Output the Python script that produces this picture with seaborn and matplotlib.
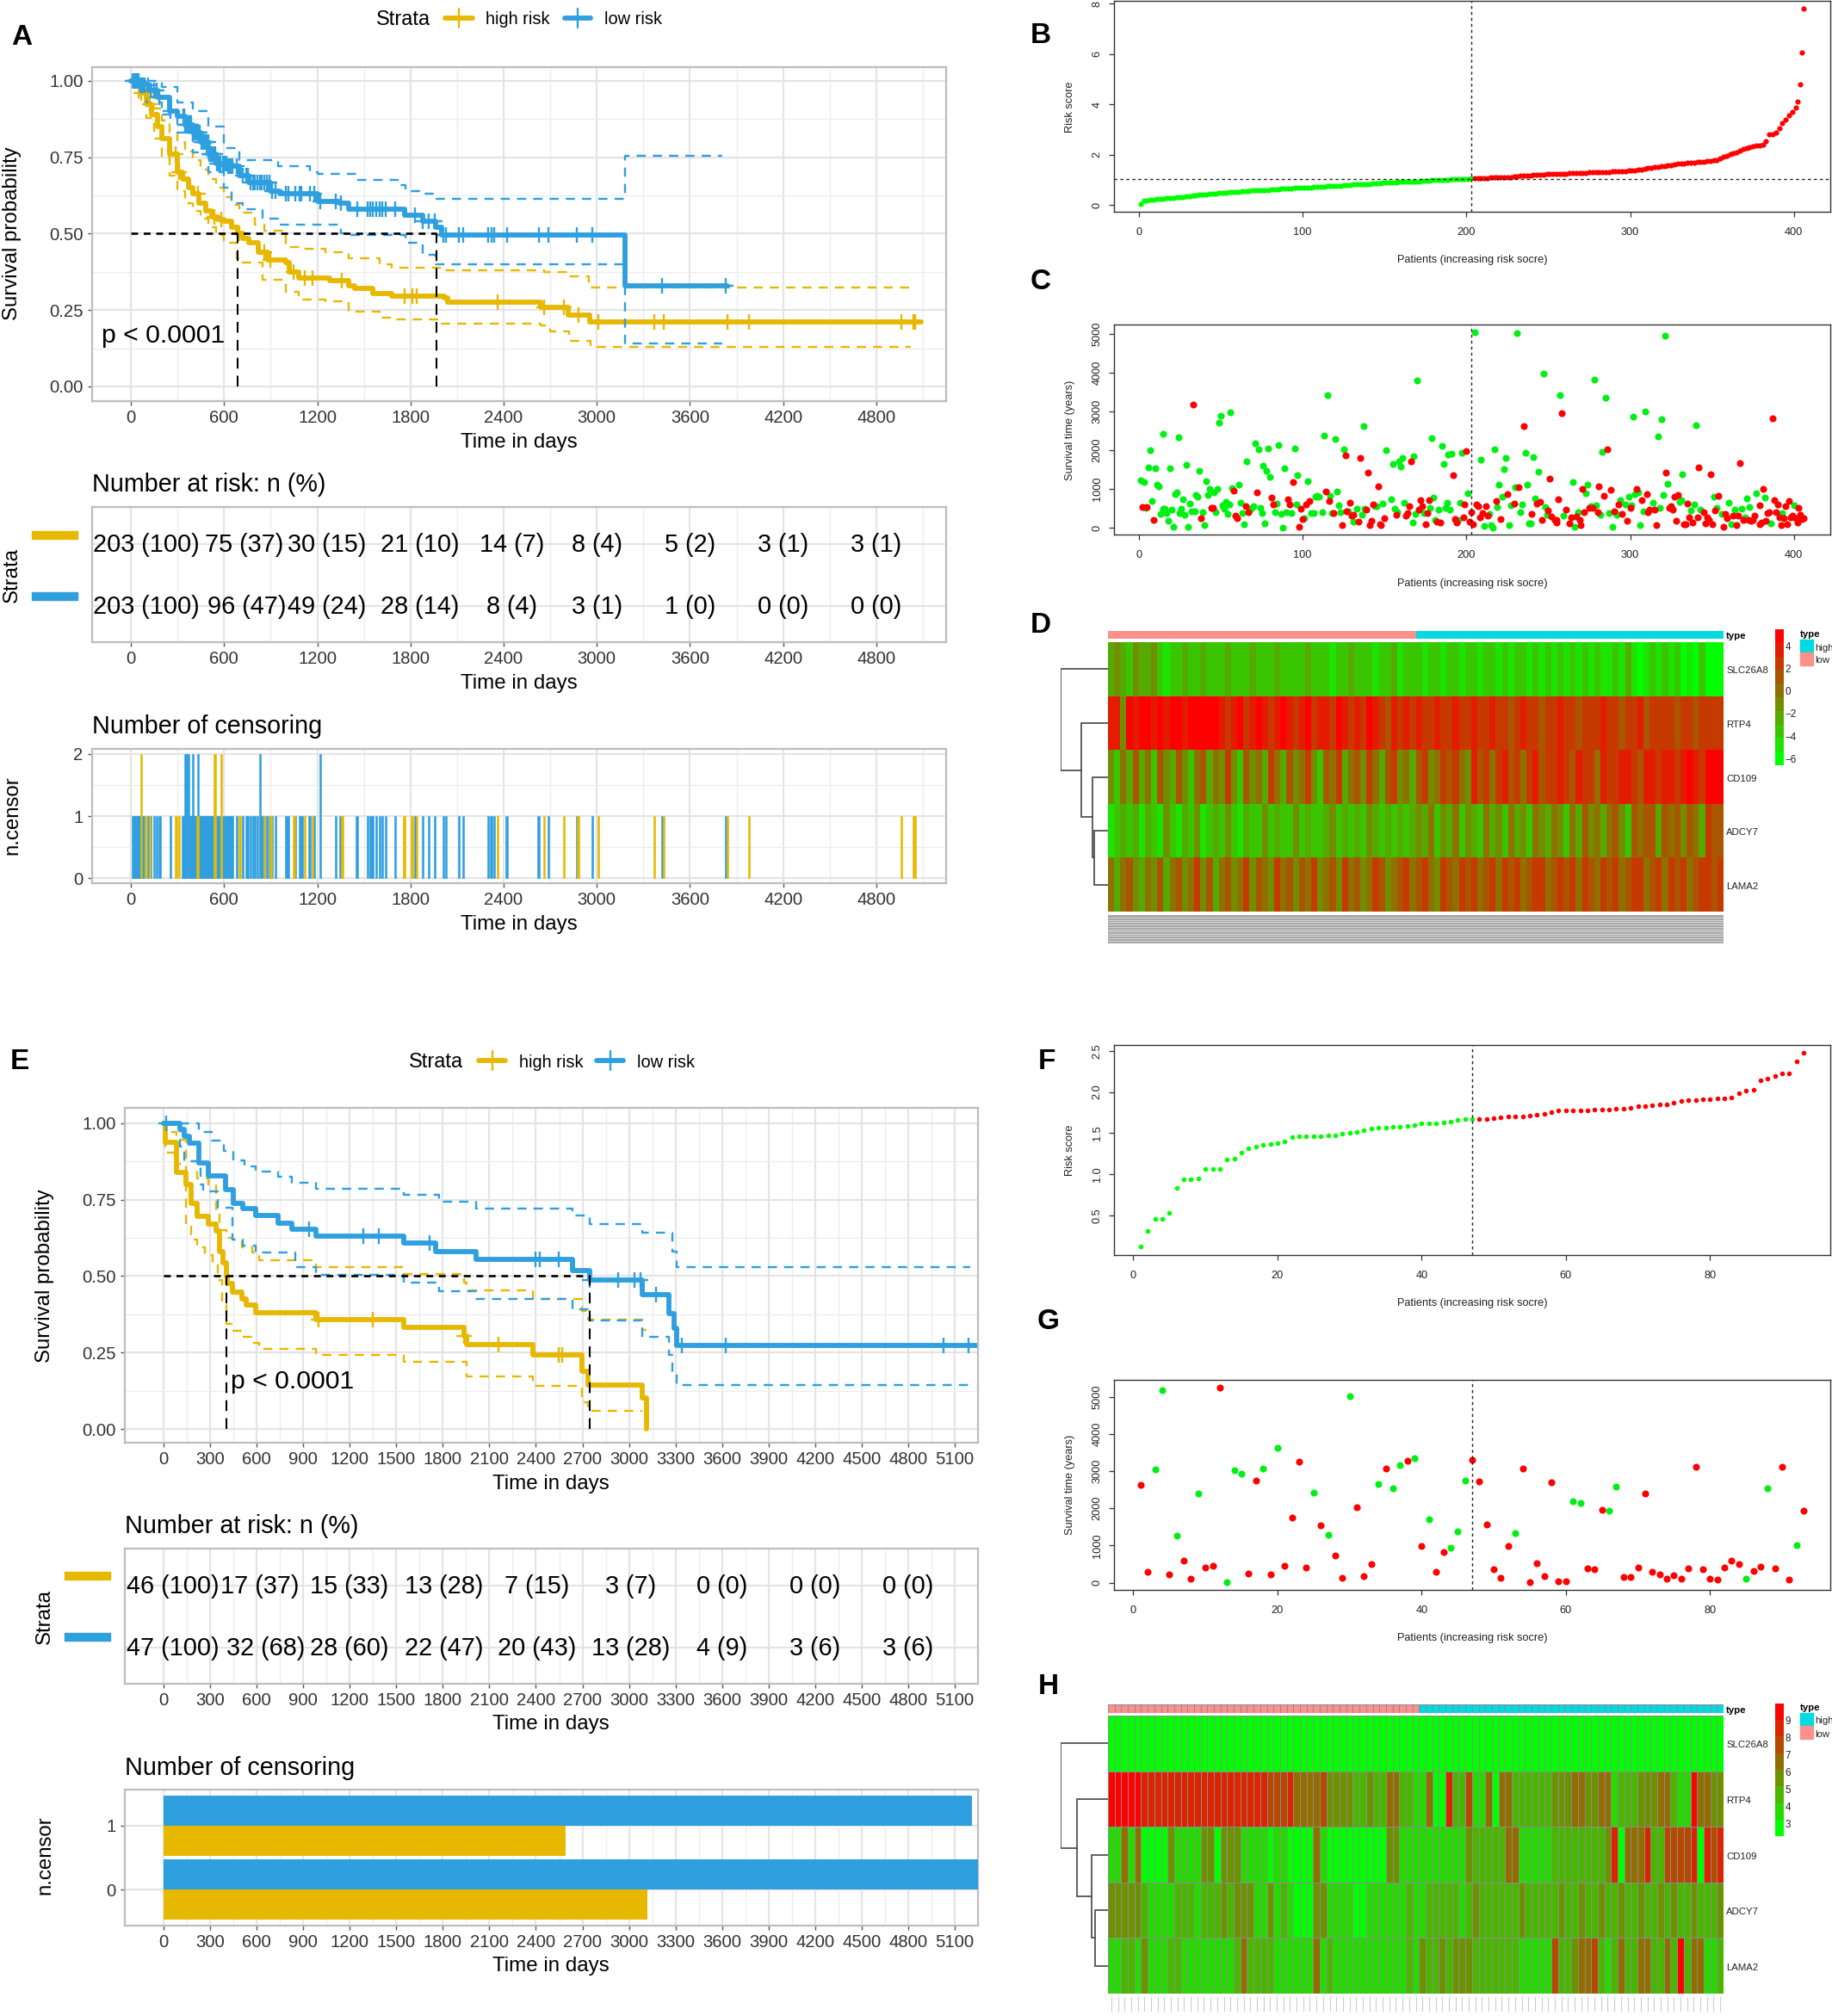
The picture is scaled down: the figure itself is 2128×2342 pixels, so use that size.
import numpy as np
import pandas as pd
import matplotlib
matplotlib.use("Agg")
import matplotlib.pyplot as plt
from matplotlib.colors import LinearSegmentedColormap, ListedColormap
from matplotlib.lines import Line2D
from matplotlib.patches import Rectangle
import seaborn as sns

# ------------------------------------------------------------------ data
GOLD, BLUE = "#E7B800", "#2E9FDF"

A_high_t = [0,30,60,100,130,170,200,250,300,330,370,400,440,480,520,560,600,650,687,720,760,820,880,1000,1020,1080,1280,1400,1440,1560,1680,2020,2040,2640,2815,2955,5090]
A_high_s = [1,.985,.96,.925,.89,.85,.81,.76,.70,.68,.65,.63,.60,.575,.555,.545,.54,.52,.50,.485,.47,.44,.415,.405,.375,.355,.345,.33,.32,.305,.295,.29,.275,.26,.235,.21,.21]
A_high_u = [0,50,100,150,200,250,300,350,400,450,500,550,600,650,700,800,860,1000,1080,1250,1400,1600,1680,2000,2660,2820,2950,5020]
A_high_up = [1,.98,.95,.91,.87,.83,.80,.77,.74,.71,.68,.65,.62,.595,.57,.53,.51,.455,.45,.44,.42,.40,.39,.38,.375,.36,.325,.325]
A_high_l = [0,50,100,150,200,250,300,350,400,450,500,550,600,680,720,850,1000,1080,1250,1400,1600,1680,2000,2640,2700,2820,2960,5020]
A_high_lo = [1,.94,.88,.81,.75,.69,.64,.60,.575,.55,.52,.495,.47,.42,.405,.35,.31,.285,.28,.245,.225,.22,.205,.20,.18,.15,.13,.13]

A_low_t = [0,60,120,170,250,300,350,400,450,500,550,620,700,760,900,960,1200,1340,1400,1720,1760,1880,1960,2000,3180,3840]
A_low_s = [1,.985,.97,.945,.90,.885,.855,.83,.80,.76,.73,.72,.69,.667,.64,.63,.605,.60,.58,.58,.56,.54,.52,.495,.33,.33]
A_low_u = [0,100,200,300,400,500,600,700,780,950,1150,1200,1450,1720,1770,1880,1960,3180,3810]
A_low_up = [1,1,.98,.93,.90,.85,.78,.74,.74,.72,.70,.695,.675,.66,.64,.63,.615,.755,.755]
A_low_l = [0,100,200,300,400,500,600,650,720,850,950,1150,1350,1420,1720,1770,1880,1960,3180,3810]
A_low_lo = [1,.93,.89,.83,.765,.70,.65,.60,.58,.55,.53,.53,.50,.495,.495,.47,.43,.40,.14,.14]

A_medians = [687, 1965]

A_c_high_t = [65,95,120,290,310,430,540,580,700,860,900,1050,1120,1170,1360,1760,1810,1840,2360,2660,2790,2880,3010,3370,3430,3840,3980,4960,5040,5050]
A_c_high_twos = [65,540,580]
A_c_low_t = [12,20,28,36,44,52,60,70,78,86,110,125,150,165,185,255,335,345,350,360,370,380,390,400,408,415,423,430,438,445,452,460,468,475,482,490,498,505,512,520,528,535,542,555,565,575,595,605,615,625,635,645,655,680,720,745,755,770,785,800,815,830,845,860,875,890,910,930,1000,1015,1060,1085,1100,1150,1180,1220,1320,1350,1455,1525,1540,1555,1580,1600,1620,1640,1700,1830,1880,1920,1955,2010,2030,2110,2140,2300,2320,2340,2420,2625,2690,2870,2970,3420,3830]
A_c_low_twos = [350,360,370,400,430,830,1220]

A_risk_high = ["203 (100)","75 (37)","30 (15)","21 (10)","14 (7)","8 (4)","5 (2)","3 (1)","3 (1)"]
A_risk_low = ["203 (100)","96 (47)","49 (24)","28 (14)","8 (4)","3 (1)","1 (0)","0 (0)","0 (0)"]
A_risk_high_x = [100,727,1262,1861,2456,3000,3600,4200,4800]
A_risk_low_x = [100,747,1262,1861,2452,3000,3600,4200,4800]

E_high_t = [0,10,85,105,146,175,215,290,337,362,382,403,410,443,504,533,594,980,1550,1936,1956,2383,2696,2737,3083,3115]
E_high_s = [1,.938,.838,.838,.80,.738,.695,.67,.648,.58,.543,.50,.476,.448,.424,.405,.38,.357,.333,.305,.276,.241,.19,.143,.10,0]
E_high_u = [0,10,85,146,215,290,337,362,403,443,504,574,615,980,1550,1936,1956,2383,2696,2737,3083,3115]
E_high_up = [1,.97,.945,.875,.82,.80,.71,.65,.625,.62,.595,.576,.552,.529,.507,.478,.452,.424,.386,.357,.324,.324]
E_high_l = [0,10,85,146,175,215,264,317,350,378,403,443,512,574,615,980,1550,1956,2383,2696,2737,3083]
E_high_lo = [1,.905,.866,.67,.62,.595,.57,.543,.486,.419,.343,.322,.30,.281,.262,.242,.219,.171,.14,.086,.06,.06]
E_low_t = [0,105,134,167,228,290,398,451,512,594,736,826,980,1550,1753,2017,2635,2749,3083,3257,3290,3306,5250]
E_low_s = [1,.98,.957,.935,.871,.829,.783,.738,.72,.697,.674,.652,.631,.607,.579,.554,.519,.488,.438,.378,.329,.274,.274]
E_low_u = [0,228,309,390,451,524,594,736,826,980,1550,1773,2017,2635,2749,3083,3278,3306,5200]
E_low_up = [1,.971,.943,.91,.878,.859,.843,.824,.805,.786,.766,.743,.722,.697,.67,.641,.581,.529,.529]
E_low_l = [0,105,134,240,256,350,443,512,594,850,980,1550,1773,2017,2635,2749,3083,3257,3282,3306,5200]
E_low_lo = [1,.924,.876,.80,.778,.724,.62,.60,.576,.529,.505,.478,.45,.424,.391,.354,.30,.243,.186,.143,.143]
E_medians = [403, 2749]
E_c_high_t = [1000,1346,1936,2160,2546,2570]
E_c_low_t = [15,940,1285,1387,1712,2395,2424,2546,2749,2932,3034,3075,3176,3339,3623,5026,5189]
E_censor_levels = ["1","1","0","0"]
E_censor_strata = ["low risk","high risk","low risk","high risk"]
E_censor_max = [5210,2590,5260,3120]
E_risk_high = ["46 (100)","17 (37)","15 (33)","13 (28)","7 (15)","3 (7)","0 (0)","0 (0)","0 (0)"]
E_risk_low = ["47 (100)","32 (68)","28 (60)","22 (47)","20 (43)","13 (28)","4 (9)","3 (6)","3 (6)"]
E_risk_high_x = [60,622,1196,1805,2405,3009,3600,4200,4800]
E_risk_low_x = [60,660,1196,1805,2405,3009,3600,4200,4800]

# B: risk score by patient rank (odd ranks up to 399, then the last ranks)
B_rank = list(range(1,400,2)) + [401,402,404,405,406]
B_score = [.05,.17,.19,.21,.23,.24,.25,.26,.27,.29, .30,.31,.32,.33,.35,.37,.38,.40,.41,.43,
           .44,.45,.46,.47,.48,.49,.50,.51,.52,.53, .54,.55,.56,.57,.58,.59,.59,.60,.60,.61,
           .62,.63,.64,.65,.66,.67,.67,.68,.69,.70, .70,.71,.71,.72,.73,.74,.74,.75,.75,.76,
           .77,.78,.79,.80,.81,.82,.82,.83,.84,.85, .85,.86,.87,.88,.89,.89,.90,.90,.91,.92,
           .92,.93,.93,.94,.95,.95,.96,.97,.98,.99, .99,1.00,1.01,1.02,1.02,1.03,1.03,1.04,1.05,1.05,
           1.05,1.06,1.06,1.07,1.07,1.08,1.08,1.09,1.09,1.10, 1.10,1.11,1.11,1.12,1.13,1.14,1.16,1.18,1.19,1.19,
           1.20,1.20,1.21,1.22,1.23,1.23,1.24,1.24,1.25,1.25, 1.26,1.27,1.28,1.28,1.29,1.29,1.29,1.30,1.30,1.30,
           1.30,1.31,1.31,1.32,1.33,1.33,1.34,1.35,1.36,1.37, 1.38,1.39,1.41,1.43,1.46,1.47,1.49,1.51,1.52,1.54,
           1.55,1.57,1.60,1.63,1.65,1.66,1.67,1.68,1.69,1.70, 1.71,1.72,1.73,1.75,1.77,1.78,1.80,1.86,1.92,1.97,
           2.02,2.07,2.11,2.16,2.22,2.26,2.30,2.33,2.36,2.38, 2.42,2.55,2.80,2.83,2.90,3.05,3.25,3.40,3.55,3.72,
           3.88,4.12,4.78,6.05,7.80]

C_alive_x = [1,3,4,6,7,8,10,11,12,13,15,15,16,17,18,19,20,21,22,23,24,25,26,27,28,29,30,31,32,34,35,36,37,39,40,41,42,43,46,47,48,49,50,51,52,53,54,55,56,57,61,62,63,64,66,68,69,70,71,73,74,75,76,77,78,79,80,83,84,85,87,88,89,90,93,95,96,97,101,103,105,107,108,109,110,112,113,115,117,118,120,121,122,123,125,128,131,133,136,137,138,144,145,149,151,154,155,156,158,159,160,161,162,167,168,169,170,174,178,179,180,181,183,185,186,187,188,189,190,191,195,196,197,201,205,209,211,214,215,216,217,219,220,222,223,224,226,227,230,231,233,234,236,237,238,239,241,242,244,247,248,249,257,259,265,266,268,273,274,276,278,279,282,283,285,287,289,291,292,294,297,299,301,302,303,305,306,308,309,314,317,318,319,320,321,323,330,331,332,337,339,340,343,351,353,356,360,362,364,368,370,371,373,377,382,386,393,400]
C_alive_y = [1224,1185,520,1560,2010,690,1540,1115,1070,360,480,2420,480,370,170,1540,470,20,870,910,2330,370,480,730,330,1620,30,620,420,420,840,800,1460,390,70,1190,840,1000,910,400,1000,2700,2890,570,480,670,360,590,2970,1030,1100,640,370,80,1700,470,520,560,2170,2030,500,370,1600,110,1460,2050,1320,390,630,2140,350,10,1530,390,380,2050,590,1350,250,1210,370,370,810,830,810,410,2370,3420,830,370,2290,940,570,390,2020,420,150,480,340,2620,480,550,550,630,2000,740,1650,490,400,1710,1580,1790,640,130,1840,360,3810,370,520,2310,770,200,460,2110,1640,520,640,1880,460,1910,190,640,1940,890,5040,1750,40,350,60,10,2020,540,1100,790,1520,1800,70,570,1050,5030,410,590,1940,1110,120,110,1820,750,1450,3980,540,340,3430,320,1170,20,400,890,1110,560,3830,570,340,1950,3360,370,30,400,340,700,600,810,580,2870,870,900,70,430,3010,650,2350,510,2790,850,4960,1130,660,710,1370,450,590,2650,470,790,520,360,650,80,460,490,260,750,530,890,780,100,370,570]
C_dead_x = [2,5,9,33,38,44,45,58,59,60,65,67,72,81,82,91,92,94,98,99,100,102,104,114,116,119,124,126,127,129,130,131,134,135,139,140,141,142,143,146,147,148,150,157,163,164,165,166,171,172,173,175,176,177,182,184,192,193,194,198,199,200,202,203,204,206,207,208,210,212,213,218,221,225,229,232,235,240,243,245,246,250,251,252,254,255,255,256,258,261,263,264,267,269,270,271,272,275,277,280,281,284,286,288,290,293,295,298,300,304,307,310,311,312,315,316,322,324,325,326,327,328,329,333,334,335,336,338,341,342,345,346,347,348,349,350,352,354,357,358,359,363,365,366,367,369,372,374,375,376,379,379,380,381,383,384,385,387,388,389,390,391,392,394,395,396,397,398,399,401,402,403,404,405,406]
C_dead_y = [530,540,210,3180,240,500,500,950,300,240,550,400,900,780,590,730,590,1170,20,490,230,610,680,940,680,370,60,1870,420,650,320,340,150,1800,460,1420,60,170,600,1060,80,70,250,340,320,380,550,1710,460,720,560,90,370,720,160,130,1350,230,130,260,610,1970,150,410,90,600,550,260,380,550,300,690,220,860,630,1040,2630,360,620,670,210,440,1270,280,210,130,210,730,2950,470,110,260,290,190,60,1010,400,500,500,400,1070,820,2020,980,430,590,360,170,520,1010,720,870,410,470,460,70,1420,520,550,470,790,180,840,90,90,620,260,130,270,1560,400,110,260,210,1370,90,440,820,30,360,250,300,70,310,1670,190,210,180,210,320,80,570,130,1000,180,380,400,2820,710,410,600,270,60,250,550,80,690,260,300,250,130,500,340,230,250]
_n = min(len(C_alive_x), len(C_alive_y)); C_alive_x, C_alive_y = C_alive_x[:_n], C_alive_y[:_n]
_n = min(len(C_dead_x), len(C_dead_y)); C_dead_x, C_dead_y = C_dead_x[:_n], C_dead_y[:_n]

F_score = [.12,.31,.46,.46,.53,.84,.94,.94,.95,1.06,1.07,1.07,1.18,1.19,1.26,1.32,1.34,1.36,1.37,1.38,1.40,1.45,1.46,1.46,1.46,1.46,1.47,1.47,1.49,1.50,1.51,1.54,1.56,1.57,1.57,1.58,1.58,1.59,1.60,1.62,1.62,1.62,1.63,1.64,1.66,1.67,1.67,
           1.67,1.67,1.68,1.69,1.70,1.70,1.70,1.71,1.72,1.73,1.75,1.78,1.78,1.78,1.78,1.78,1.79,1.79,1.79,1.80,1.80,1.81,1.83,1.83,1.84,1.85,1.85,1.87,1.89,1.90,1.90,1.91,1.91,1.92,1.92,1.93,1.98,2.02,2.03,2.14,2.16,2.19,2.22,2.22,2.37,2.48]
G_time = [2630,300,3050,5190,230,1270,590,100,2390,400,450,5260,20,3030,2940,250,2750,3070,230,3620,450,1750,3250,400,2430,1540,1280,740,130,5020,2020,170,500,2660,3070,2530,3170,3270,3340,980,1700,300,830,940,1390,2740,3300,2730,1560,350,130,990,1330,3070,20,520,170,2700,30,40,2180,2150,380,360,1950,1930,2580,150,160,400,2390,280,230,100,200,100,380,3110,350,100,90,410,580,490,100,320,430,2530,390,3110,90,1000,1930]
G_alive = [3,4,6,9,13,14,15,18,20,25,27,30,34,36,37,39,41,44,45,46,53,61,62,66,67,85,88,92]

genes = ["SLC26A8","RTP4","CD109","ADCY7","LAMA2"]
D_SLC26A8 = [-2,-1,-2,-3,-1,-2,-2,-1,-4,-5, -4,-3,-2,-4,-3,-2,-4,-3,-4,-2, -4,-3,-4,-2,-3,-4,-4,-2,-3,-4, -3,-4,-2,-4,-3,-4,-5,-3,-4,-2,
             -4,-4,-3,-5,-3,-4,-2,-5,-4,-3, -4,-5,-3,-4,-5,-3,-4,-5,-4,-3, -5,-4,-3,-5,-4,-5,-3,-4,-5,-4, -5,-3,-5,-4,-5,-4,-5,-3,-5,-4,
             -5,-5,-4,-5,-2,-5,-6,-5,-4,-5, -3,-5,-4,-6,-5,-6,-4,-6,-6,-6]
D_RTP4 = [4,4,-1,5,4,5,5,4,5,4, 5,5,4,5,5,5,5,5,4,3, 4,5,3,4,5,4,3,4,5,4, 3,4,5,3,4,4,3,5,4,3, 4,3,5,4,3,1,4,3,4,3,
          4,2,3,4,3,2,4,3,2,4, 2,3,4,2,3,1,3,4,2,3, 1,3,2,4,3,2,1,3,2,3, 4,2,3,1,3,2,4,1,2,3, 2,3,1,2,3,1,2,3,2,3]
D_CD109 = [-1,-3,0,-2,1,-2,0,-3,1,-1, -2,1,-1,-3,0,1,-2,0,-1,2, -1,-3,1,-1,0,-2,2,0,-2,1, -1,0,2,-1,-3,1,0,2,-2,0,
           1,-1,2,0,-2,1,2,-1,0,-2, 1,3,-1,0,2,1,3,0,-1,4, 1,3,0,2,4,1,3,0,2,4, 1,3,2,4,3,1,4,2,3,0, 4,3,2,4,4,3,1,4,4,2, 4,4,3,4,5,4,3,5,5,5]
D_ADCY7 = [-5,-3,-2,-4,-2,-5,-2,-3,-5,-1, -3,-5,-2,-3,-1,-5,-3,-2,-4,-1, -3,-5,-2,-3,-4,-1,-3,-2,-4,-3, -1,-4,-2,-3,-3,-2,-1,-3,-2,-3,
           -2,-3,-1,-2,-3,-2,-3,-2,-4,-2, -1,-2,0,-3,-1,-2,0,-3,-1,-2, -3,0,-2,-1,-3,0,-2,-1,-3,0, -1,-2,0,-1,-3,0,-2,1,-1,0, -2,0,1,-1,-3,1,0,1,1,-2, 1,0,1,-1,1,0,-2,2,1,1]
D_LAMA2 = [0,-2,0,1,-1,-2,0,-1,1,-2, 0,1,-1,0,2,-1,1,-2,0,1, -1,0,2,-1,1,0,-1,2,0,1, -1,1,0,2,-1,0,1,-1,2,0, 1,-1,0,2,1,-1,0,1,2,0,
           1,2,0,-1,2,1,0,2,1,3, 0,1,2,0,3,1,2,0,1,2, 3,0,1,2,1,3,0,2,1,0, 3,1,2,0,1,3,2,0,1,2, 0,3,1,2,0,1,3,2,1,2]

H_SLC26A8 = [3]*93
H_RTP4 = [10,10,10,10,10,9,9,9,9,9, 9,9,9,9,9,9,9,8.5,9,9, 8.5,8.5,8.5,8.5,8,8,8,9,7,7, 7,7,8,6,6,6,5.5,5,5,5.5, 5,5,7,7,4.5,4.5,4,4,7,3,
          3,9,5,5,8,4,4,7,3,7, 7,4.5,5,5,5,5,5,6,6,6, 7,7,6,6,7,7,4,5,5,5, 6,6,6,7,7,4.5,4,4,9.5,7, 7,5.5,6]
H_CD109 = [4,4,6.5,4,6.5,3,3,3,3,5.5, 4,4,4,4,6,6,3,6,6,6, 4,3.5,4,3.5,3,4,3.5,3,3,3, 3,7,4,3,3,3,3,3,3,3, 3,3,6,6,4,4,4,4,4,4,
           4,4,4,4,6,5,5,5,5,5, 7,7,4,4,4,4,4,5,5,5, 5,5,5,5,5,6,9,3,7,7, 7,9,5,5,7.5,7.5,7.5,7.5,9,3, 9,8,9]
H_ADCY7 = [5.5,6,5.5,6,6,4.5,4,4,4,3.5, 4.5,5,5,4,5,5,5,5.5,5,6, 6,6,4,3.5,5.5,4,5,4,3,3, 3,5.5,6,4,4,3.5,3.5,3,3,4, 4,4,4,4,4,4.5,3.5,3.5,5,5,
           5,5,5,4,5,6,5,5,5,5, 5,5,5.5,5,5,5,5,5,5.5,5, 5,5.5,5,5,5.5,5,5,5.5,5,5, 5.5,5,5,5.5,5,5.5,5,5,5.5,5, 5,5,5.5]
H_LAMA2 = [4,3.5,4.5,4.5,4,6,4,4,4,4.5, 4.5,4,4,4,4,4,4,4,4,4.5, 7,5,5,4.5,4.5,4,4,4,3.5,4, 4,7,4,4.5,4,3.5,4,4,3.5,4, 4,4,4,4,4,4.5,4,6,5,5,
           5.5,5,5.5,6,5.5,5,5,4.5,5,5, 4.5,4.5,4,4,4,4,4,8,5,5, 6,7,7,8,4.5,4,4.5,7,5,5, 7,7,5,5,7,5,9.5,5,7,7, 4,4,4.5]

# ------------------------------------------------------------------ helpers
sns.set_theme(style="white")
plt.rcParams["font.family"] = ["Liberation Sans", "DejaVu Sans"]
W, H = 2128, 2342
fig = plt.figure(figsize=(W/100, H/100), dpi=100, facecolor="white")

def axpx(l, t, r, b):
    return fig.add_axes([l/W, 1-b/H, (r-l)/W, (b-t)/H])

def tx(x, y, s, **k):
    k.setdefault("va", "center"); k.setdefault("ha", "center"); k.setdefault("color", "black")
    if k.get("rotation"):
        x += 3
    else:
        y += 2
    return fig.text(x/W, 1-y/H, s, **k)

def gg_axes(ax, xticks, xminor, yticks, yminor, xlim, ylim, ylabels=None):
    ax.set_xlim(*xlim); ax.set_ylim(*ylim)
    ax.set_xticks(xticks); ax.set_xticks(xminor, minor=True)
    ax.set_yticks(yticks); ax.set_yticks(yminor, minor=True)
    if ylabels is not None:
        ax.set_yticklabels(ylabels)
    ax.grid(True, which="major", color="#E4E4E4", lw=1.6)
    ax.grid(True, which="minor", color="#EDEDED", lw=1.0)
    ax.set_axisbelow(True)
    ax.tick_params(which="major", length=3.5, width=1, color="#555555", labelcolor="#333333",
                   labelsize=14.6, pad=4, left=True, bottom=True)
    ax.tick_params(which="minor", length=0)
    ax.set_xlabel(""); ax.set_ylabel("")
    for s in ax.spines.values():
        s.set_color("#BDBDBD"); s.set_linewidth(1.6); s.set_visible(True)

def step(ax, t, s, c, lw, dashed=False):
    kw = dict(linestyle=(0, (4.5, 3.5))) if dashed else {}
    sns.lineplot(x=t, y=s, ax=ax, color=c, lw=lw, drawstyle="steps-post", estimator=None,
                 sort=False, errorbar=None, legend=False, **kw)

def surv_at(t, s, q):
    idx = np.searchsorted(t, q, side="right") - 1
    return np.asarray(s)[np.clip(idx, 0, len(s)-1)]

def km_panel(box, curves, medians, ticks, minor, pval_xy, ylim):
    ax = axpx(*box)
    for c in curves:
        step(ax, c["u"], c["up"], c["c"], 1.7, True)
        step(ax, c["l"], c["lo"], c["c"], 1.7, True)
        step(ax, c["t"], c["s"], c["c"], 4.2)
    for c in curves:
        ct = np.array(c["ct"])
        sns.scatterplot(x=ct, y=surv_at(c["t"], c["s"], ct), ax=ax, marker="+", s=150, color=c["c"],
                        linewidth=1.7, legend=False, zorder=5)
    ax.plot([0, medians[1]], [.5, .5], color="black", lw=1.9, ls=(0, (3, 2.5)), zorder=6)
    for m in medians:
        ax.plot([m, m], [0, .5], color="black", lw=1.5, ls=(0, (6, 4)), zorder=6)
    ax.text(*pval_xy, "p < 0.0001", fontsize=21.8, color="black", ha="left", va="center")
    gg_axes(ax, ticks, minor, [0,.25,.5,.75,1], [.125,.375,.625,.875], (-250, 5250), ylim,
            ["0.00","0.25","0.50","0.75","1.00"])
    return ax

def risk_panel(box, rows_x, rows_t, ticks, minor):
    ax = axpx(*box)
    gg_axes(ax, ticks, minor, [1, 2], [], (-250, 5250), (.41, 2.6), ["", ""])
    ax.tick_params(axis="y", length=0)
    for yy, xs, ts in zip([2, 1], rows_x, rows_t):
        for x, t in zip(xs, ts):
            ax.text(x, yy-.02, t, fontsize=20.8, ha="center", va="center", color="black")
    return ax

def legend_row(y, x_strata, key1, x_high, key2, x_low):
    tx(x_strata, y, "Strata", fontsize=17, ha="left")
    for (a, b), c in zip([key1, key2], [GOLD, BLUE]):
        fig.add_artist(Line2D([a/W, b/W], [1-y/H]*2, color=c, lw=4.2, transform=fig.transFigure))
        fig.add_artist(Line2D([(a+b)/2/W]*2, [1-(y-11)/H, 1-(y+11)/H], color=c, lw=1.7, transform=fig.transFigure))
    tx(x_high, y, "high risk", fontsize=14.4, ha="left")
    tx(x_low, y, "low risk", fontsize=14.4, ha="left")

def base_axes(ax, xticks, yticks, xlim, ylim, ylab, xlab_y, ylab_y, yfmt=None):
    ax.set_xlim(*xlim); ax.set_ylim(*ylim)
    ax.set_xticks(xticks); ax.set_yticks(yticks)
    if yfmt:
        ax.set_yticklabels(yfmt)
    ax.set_xlabel(""); ax.set_ylabel("")
    ax.grid(False)
    ax.tick_params(length=4.5, width=.9, color="#333333", labelcolor="#222222", labelsize=9.2,
                   left=True, bottom=True, pad=5)
    ax.tick_params(axis="x", pad=8.5)
    plt.setp(ax.get_yticklabels(), rotation=90, va="center")
    for s in ax.spines.values():
        s.set_color("#333333"); s.set_linewidth(1.0); s.set_visible(True)
    tx(1710, xlab_y, "Patients (increasing risk socre)", fontsize=9.2, color="#222222")
    tx(1240, ylab_y, ylab, fontsize=9.2, rotation=90, color="#222222")

def dots(ax, x, y, c, s):
    sns.scatterplot(x=x, y=y, ax=ax, color=c, s=s, linewidth=0, legend=False)

def heat_panel(box, ann_box, cbar_box, legend_y, row_sets, n_low, vmin, vmax, n_col, cticks, dend, dend_l, lw, ann_lw):
    l, t, r, b = box
    data = pd.DataFrame(row_sets, index=genes)
    cmap = LinearSegmentedColormap.from_list("gr", ["#00FF00", "#FF0000"], N=n_col)
    ax = axpx(l, t, r, b)
    cax = axpx(*cbar_box)
    sns.heatmap(data, ax=ax, cmap=cmap, vmin=vmin, vmax=vmax, cbar_ax=cax, xticklabels=False,
                yticklabels=False, linewidths=lw, linecolor="#8C8C8C", cbar_kws=dict(ticks=cticks))
    cax.tick_params(length=0, labelsize=8.4, pad=1, labelcolor="#222222", right=True)
    cax.set_yticklabels([str(v).replace("-", "\u2212") for v in cticks])
    ax.collections[0].colorbar.outline.set_visible(False)
    step_h = (b-t)/5
    for i, g in enumerate(genes):
        tx(r+3, t+step_h*(i+.5), g, fontsize=8.2, ha="left", color="#222222")
    # annotation strip
    ann = axpx(*ann_box)
    n = data.shape[1]
    strip = pd.DataFrame([[0]*n_low + [1]*(n-n_low)])
    sns.heatmap(strip, ax=ann, cmap=ListedColormap(["#FB918A", "#00DAE0"]), cbar=False, xticklabels=False,
                yticklabels=False, linewidths=ann_lw, linecolor="#8C8C8C", vmin=0, vmax=1)
    tx(r+3, (ann_box[1]+ann_box[3])/2, "type", fontsize=8.2, ha="left", fontweight="bold")
    # type legend
    tx(2091, legend_y, "type", fontsize=8.2, ha="left", fontweight="bold")
    for off, col, lab in [(8, "#00DAE0", "high"), (23, "#FB918A", "low")]:
        fig.add_artist(Rectangle((2091/W, 1-(legend_y+off+15)/H), 15/W, 15/H, color=col, transform=fig.transFigure))
        tx(2108, legend_y+off+7.5, lab, fontsize=8.2, ha="left", color="#222222")
    # dendrogram
    d = axpx(dend_l, t, l, b)
    d.set_xlim(1, 0); d.set_ylim(5, 0); d.axis("off")
    for h, (y1, h1), (y2, h2) in dend:
        d.plot([h1, h, h, h2], [y1, y1, y2, y2], color="#444444", lw=1.2, solid_joinstyle="miter")
    return ax

# ------------------------------------------------------------------ panel A
ticks_A = list(range(0, 5000, 600)); minor_A = list(range(300, 5400, 600))
curves_A = [
    dict(t=A_high_t, s=A_high_s, u=A_high_u, up=A_high_up, l=A_high_l, lo=A_high_lo, c=GOLD, ct=A_c_high_t),
    dict(t=A_low_t, s=A_low_s, u=A_low_u, up=A_low_up, l=A_low_l, lo=A_low_lo, c=BLUE, ct=A_c_low_t),
]
km_panel((107, 78, 1099, 466), curves_A, A_medians, ticks_A, minor_A, (-190, .165), (-.048, 1.045))
risk_panel((107, 589, 1099, 746), [A_risk_high_x, A_risk_low_x], [A_risk_high, A_risk_low], ticks_A, minor_A)

axc = axpx(107, 870, 1099, 1026)
axc.bar(A_c_low_t, [2 if t in A_c_low_twos else 1 for t in A_c_low_t], width=12, color=BLUE,
        edgecolor=BLUE, linewidth=.4, zorder=3)
axc.bar(A_c_high_t, [2 if t in A_c_high_twos else 1 for t in A_c_high_t], width=13, color=GOLD,
        edgecolor=GOLD, linewidth=.4, zorder=4)
gg_axes(axc, ticks_A, minor_A, [0, 1, 2], [.5, 1.5], (-250, 5250), (-.083, 2.083), ["0", "1", "2"])

# ------------------------------------------------------------------ panel E
ticks_E = list(range(0, 5200, 300)); minor_E = list(range(150, 5300, 300))
curves_E = [
    dict(t=E_high_t, s=E_high_s, u=E_high_u, up=E_high_up, l=E_high_l, lo=E_high_lo, c=GOLD, ct=E_c_high_t),
    dict(t=E_low_t, s=E_low_s, u=E_low_u, up=E_low_up, l=E_low_l, lo=E_low_lo, c=BLUE, ct=E_c_low_t),
]
km_panel((145, 1287, 1136, 1676), curves_E, E_medians, ticks_E, minor_E, (430, .155), (-.045, 1.05))
risk_panel((145, 1799, 1136, 1956), [E_risk_high_x, E_risk_low_x], [E_risk_high, E_risk_low], ticks_E, minor_E)

axe = axpx(145, 2079, 1136, 2237)
e_df = pd.DataFrame(dict(level=E_censor_levels, strata=E_censor_strata, tmax=E_censor_max))
sns.barplot(data=e_df, y="level", x="tmax", hue="strata", order=["1", "0"], hue_order=["low risk", "high risk"],
            palette={"low risk": BLUE, "high risk": GOLD}, orient="h", width=.94, gap=0, saturation=1,
            legend=False, ax=axe, errorbar=None, zorder=3)
for p in axe.patches:
    p.set_linewidth(0)
gg_axes(axe, ticks_E, minor_E, [0, 1], [], (-250, 5250), (1.56, -.56), ["1", "0"])

# shared ggplot text
for x in (11,):
    tx(x, 271, "Survival probability", fontsize=17.3, rotation=90)
    tx(x, 668, "Strata", fontsize=17.3, rotation=90)
    tx(x, 947, "n.censor", fontsize=17.3, rotation=90)
for x in (49,):
    tx(x, 1482, "Survival probability", fontsize=17.3, rotation=90)
    tx(x, 1878, "Strata", fontsize=17.3, rotation=90)
    tx(x, 2155, "n.censor", fontsize=17.3, rotation=90)
for y in (512, 792, 1072):
    tx(603, y, "Time in days", fontsize=17.4)
for y in (1722, 2001, 2282):
    tx(640, y, "Time in days", fontsize=17.4)
tx(107, 561, "Number at risk: n (%)", fontsize=20.7, ha="left")
tx(107, 842, "Number of censoring", fontsize=20.7, ha="left")
tx(145, 1771, "Number at risk: n (%)", fontsize=20.7, ha="left")
tx(145, 2052, "Number of censoring", fontsize=20.7, ha="left")
for (yy, c) in [(621, GOLD), (692, BLUE)]:
    fig.add_artist(Rectangle((37/W, 1-(yy+4.5)/H), 53/W, 9/H, color=c, transform=fig.transFigure))
for (yy, c) in [(1830, GOLD), (1901, BLUE)]:
    fig.add_artist(Rectangle((75/W, 1-(yy+4.5)/H), 53/W, 9/H, color=c, transform=fig.transFigure))
legend_row(21, 437, (517, 549), 564, (656, 686), 702)
legend_row(1232, 475, (556, 587), 603, (693, 724), 740)

# ------------------------------------------------------------------ panels B, C, F, G
b_rank = np.array(B_rank); b_score = np.array(B_score)
axB = axpx(1294, 1, 2126, 246)
dots(axB, b_rank[b_rank <= 203], b_score[b_rank <= 203], "#00FF00", 20)
dots(axB, b_rank[b_rank > 203], b_score[b_rank > 203], "#FF0000", 20)
axB.axhline(1.05, color="#222222", lw=1, ls=(0, (2.5, 2.5)))
axB.axvline(203, color="#222222", lw=1, ls=(0, (2.5, 2.5)))
base_axes(axB, [0, 100, 200, 300, 400], [0, 2, 4, 6, 8], (-15.2, 422.2), (-.26, 8.11), "Risk score", 300, 124)

axC = axpx(1294, 377, 2126, 621)
dots(axC, C_alive_x, C_alive_y, "#00F014", 34)
dots(axC, C_dead_x, C_dead_y, "#FF0000", 34)
axC.axvline(203, color="#222222", lw=1, ls=(0, (2.5, 2.5)))
base_axes(axC, [0, 100, 200, 300, 400], [0, 1000, 2000, 3000, 4000, 5000], (-15.2, 422.2), (-178, 5244),
          "Survival time (years)", 676, 500)

f_rank = np.arange(1, 94); f_score = np.array(F_score)
axF = axpx(1294, 1214, 2126, 1458)
dots(axF, f_rank[f_rank <= 47], f_score[f_rank <= 47], "#00FF00", 16)
dots(axF, f_rank[f_rank > 47], f_score[f_rank > 47], "#FF0000", 16)
axF.axvline(47, color="#222222", lw=1, ls=(0, (2.5, 2.5)))
base_axes(axF, [0, 20, 40, 60, 80], [.5, 1, 1.5, 2, 2.5], (-2.68, 96.68), (.02, 2.57), "Risk score", 1512, 1336,
          ["0.5", "1.0", "1.5", "2.0", "2.5"])

g_time = np.array(G_time); g_mask = np.isin(f_rank, G_alive)
axG = axpx(1294, 1603, 2126, 1847)
dots(axG, f_rank[g_mask], g_time[g_mask], "#00F014", 34)
dots(axG, f_rank[~g_mask], g_time[~g_mask], "#FF0000", 34)
axG.axvline(47, color="#222222", lw=1, ls=(0, (2.5, 2.5)))
base_axes(axG, [0, 20, 40, 60, 80], [0, 1000, 2000, 3000, 4000, 5000], (-2.68, 96.68), (-197, 5460),
          "Survival time (years)", 1901, 1725)

# ------------------------------------------------------------------ heatmaps
dend_D = [(.29, (3.5, 0), (4.5, 0)), (.32, (2.5, 0), (4.0, .29)), (.555, (1.5, 0), (3.25, .32)), (1.0, (.5, 0), (2.38, .555))]
heat_panel((1287, 746, 2002, 1059), (1287, 733, 2002, 742), (2062, 731, 2072, 889), 735,
           [D_SLC26A8, D_RTP4, D_CD109, D_ADCY7, D_LAMA2], 50, -6.6, 5.5, 10, [-6, -4, -2, 0, 2, 4], dend_D, 1232, 0, 0)
dend_H = [(.267, (3.5, 0), (4.5, 0)), (.344, (2.5, 0), (4.0, .267)), (.655, (1.5, 0), (3.25, .344)), (1.0, (.5, 0), (2.38, .655))]
heat_panel((1287, 1993, 2002, 2316), (1287, 1980, 2002, 1990), (2062, 1979, 2072, 2133), 1982,
           [H_SLC26A8, H_RTP4, H_CD109, H_ADCY7, H_LAMA2], 47, 2.25, 10, 8, [3, 4, 5, 6, 7, 8, 9], dend_H, 1232, .4, .4)

# illegible sample-ID columns under the heatmaps, drawn as grey texture
axL = axpx(1287, 1063, 2002, 1096); axL.axis("off"); axL.set_xlim(0, 1); axL.set_ylim(0, 1)
axL.add_patch(Rectangle((0, 0), 1, 1, color="#A8A8A8"))
axL.hlines([.08,.17,.26,.33,.42,.5,.58,.67,.75,.83,.92], 0, 1, color="#D6D6D6", lw=.7)
axM = axpx(1287, 2319, 2002, 2337); axM.axis("off"); axM.set_xlim(0, 93); axM.set_ylim(0, 1)
axM.vlines(np.arange(93) + .5, 0, 1, color="#B0B0B0", lw=.8, ls=(0, (1, .6)))

# panel letters
for x, y, s in [(25, 42, "A"), (1209, 39, "B"), (1209, 325, "C"), (1209, 724, "D"), (23, 1231, "E"),
                (1216, 1231, "F"), (1218, 1534, "G"), (1218, 1957, "H")]:
    tx(x, y, s, fontsize=24, fontweight="bold")

fig.savefig("out.png", dpi=100, facecolor="white")
